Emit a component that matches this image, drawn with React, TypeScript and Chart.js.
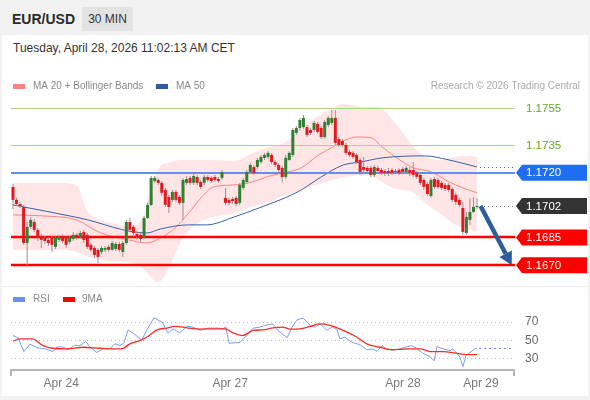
import React, { useEffect, useRef } from "react";
import { Chart, registerables } from "chart.js";
Chart.register(...registerables);

const FONT = "'Liberation Sans', Arial, Helvetica, sans-serif";

// ---------- price candles (30 min), index 0..131 ----------
const candleOpen = [
  1.17123, 1.17053, 1.17031, 1.17015, 1.1682, 1.16907, 1.16934, 1.16891, 1.16858, 1.16847,
  1.16837, 1.16847, 1.16799, 1.16837, 1.16858, 1.16853, 1.16826, 1.16842, 1.16864, 1.16853,
  1.1688, 1.16864, 1.1681, 1.16793, 1.16783, 1.16772, 1.16783, 1.16799, 1.16783, 1.16788,
  1.16815, 1.16772, 1.1682, 1.16934, 1.16907, 1.16869, 1.16864, 1.16853, 1.16955, 1.17026,
  1.17155, 1.17161, 1.17145, 1.17107, 1.17069, 1.17053, 1.17096, 1.17069, 1.17037, 1.17145,
  1.17172, 1.17145, 1.17177, 1.1715, 1.17145, 1.17177, 1.17172, 1.17177, 1.17166, 1.17172,
  1.17064, 1.17053, 1.17058, 1.17064, 1.17037, 1.17118, 1.1715, 1.17204, 1.17231, 1.17231,
  1.17258, 1.1728, 1.17285, 1.17296, 1.17258, 1.17242, 1.17226, 1.17177, 1.17269, 1.17296,
  1.17415, 1.17442, 1.17447, 1.17447, 1.17431, 1.17431, 1.17464, 1.17442, 1.17393, 1.17458,
  1.17469, 1.17496, 1.17382, 1.17372, 1.1735, 1.17312, 1.17307, 1.17296, 1.17269, 1.17231,
  1.17226, 1.17226, 1.17188, 1.17226, 1.17215, 1.17209, 1.17209, 1.17215, 1.17209, 1.17215,
  1.1722, 1.17204, 1.17215, 1.17215, 1.17199, 1.17188, 1.17161, 1.17139, 1.17074, 1.17166,
  1.17161, 1.17145, 1.17134, 1.17134, 1.17112, 1.1708, 1.17053, 1.1701, 1.16874, 1.16945,
  1.16988, 1.17015,
];
const candleHigh = [
  1.17139, 1.17064, 1.17042, 1.17026, 1.16934, 1.16961, 1.1695, 1.16901, 1.16869, 1.16858,
  1.16853, 1.16858, 1.16858, 1.16864, 1.16869, 1.16858, 1.16858, 1.1688, 1.16874, 1.16885,
  1.16891, 1.16874, 1.1682, 1.16804, 1.16793, 1.16804, 1.16804, 1.1681, 1.16831, 1.16826,
  1.16826, 1.16831, 1.16945, 1.16955, 1.16918, 1.16885, 1.16874, 1.16966, 1.17037, 1.17182,
  1.17182, 1.17172, 1.17155, 1.17118, 1.1708, 1.17107, 1.17107, 1.1708, 1.17172, 1.17182,
  1.17182, 1.17193, 1.17188, 1.17161, 1.17188, 1.17188, 1.17182, 1.17188, 1.17177, 1.17215,
  1.17118, 1.17064, 1.17069, 1.17074, 1.17145, 1.17172, 1.17215, 1.17253, 1.17242, 1.1728,
  1.17296, 1.17307, 1.17318, 1.17307, 1.17269, 1.17253, 1.17237, 1.17296, 1.17318, 1.17442,
  1.17453, 1.17496, 1.17512, 1.17458, 1.17442, 1.1748, 1.17474, 1.17453, 1.17485, 1.17507,
  1.17539, 1.17539, 1.17393, 1.17382, 1.17361, 1.17323, 1.17318, 1.17307, 1.1728, 1.17285,
  1.17237, 1.17237, 1.17242, 1.17237, 1.17226, 1.1722, 1.17226, 1.17226, 1.1722, 1.17226,
  1.17231, 1.17237, 1.17231, 1.17258, 1.17209, 1.17199, 1.17172, 1.1715, 1.17172, 1.17177,
  1.17172, 1.17155, 1.17145, 1.17145, 1.17123, 1.17091, 1.17064, 1.17042, 1.16988, 1.17064,
  1.17069, 1.17064,
];
const candleLow = [
  1.17004, 1.1702, 1.1701, 1.1681, 1.16691, 1.16896, 1.1688, 1.16831, 1.16793, 1.16815,
  1.16804, 1.16772, 1.16788, 1.16826, 1.1682, 1.16793, 1.16815, 1.16831, 1.16837, 1.16842,
  1.1682, 1.16788, 1.16772, 1.16739, 1.16712, 1.16761, 1.16772, 1.16772, 1.16777, 1.16777,
  1.16772, 1.16745, 1.1681, 1.1688, 1.16853, 1.16837, 1.16826, 1.16842, 1.1695, 1.1702,
  1.17145, 1.17134, 1.17074, 1.17015, 1.16982, 1.17042, 1.17042, 1.17026, 1.16945, 1.17134,
  1.17134, 1.17134, 1.17134, 1.17112, 1.17134, 1.1715, 1.17145, 1.1715, 1.17145, 1.17161,
  1.17026, 1.17026, 1.17031, 1.1702, 1.17026, 1.17107, 1.17139, 1.17193, 1.17188, 1.1722,
  1.17247, 1.17269, 1.17274, 1.17247, 1.17231, 1.17204, 1.1715, 1.17166, 1.17264, 1.17285,
  1.17404, 1.17426, 1.17437, 1.17393, 1.17404, 1.1742, 1.1741, 1.17382, 1.17382, 1.17447,
  1.17458, 1.1735, 1.17339, 1.17339, 1.17296, 1.17285, 1.17274, 1.17247, 1.17188, 1.17199,
  1.17199, 1.17177, 1.17177, 1.17199, 1.17188, 1.17182, 1.17182, 1.17188, 1.17193, 1.17188,
  1.17193, 1.17193, 1.17182, 1.17177, 1.17166, 1.17134, 1.17107, 1.17074, 1.17064, 1.17112,
  1.17112, 1.17107, 1.17101, 1.17096, 1.17042, 1.17026, 1.17015, 1.16864, 1.16864, 1.16918,
  1.16982, 1.17004,
];
const candleClose = [
  1.17053, 1.17031, 1.1702, 1.1682, 1.16907, 1.16945, 1.16891, 1.16847, 1.16837, 1.16831,
  1.1682, 1.1681, 1.16847, 1.16853, 1.16831, 1.1681, 1.16847, 1.16864, 1.16847, 1.16874,
  1.16837, 1.16799, 1.16783, 1.16756, 1.16745, 1.16793, 1.16793, 1.16783, 1.1682, 1.16815,
  1.16783, 1.1682, 1.16934, 1.16891, 1.16874, 1.16853, 1.16842, 1.16955, 1.17026, 1.17172,
  1.17172, 1.17145, 1.17091, 1.17026, 1.17015, 1.17096, 1.17053, 1.17037, 1.17161, 1.17166,
  1.17145, 1.17182, 1.17145, 1.17123, 1.17177, 1.17161, 1.17155, 1.17161, 1.17155, 1.17204,
  1.17037, 1.17037, 1.17047, 1.17031, 1.17134, 1.17161, 1.17204, 1.17242, 1.17199, 1.17269,
  1.17285, 1.17296, 1.17307, 1.17258, 1.17242, 1.17215, 1.17177, 1.1728, 1.17307, 1.17431,
  1.17442, 1.17485, 1.17496, 1.17404, 1.17415, 1.17469, 1.1742, 1.17393, 1.17474, 1.17496,
  1.17496, 1.17361, 1.1735, 1.1735, 1.17307, 1.17296, 1.17285, 1.17258, 1.17204, 1.17215,
  1.17209, 1.17188, 1.17231, 1.17209, 1.17199, 1.17199, 1.17199, 1.17199, 1.17204, 1.17199,
  1.17204, 1.17226, 1.17199, 1.17188, 1.17177, 1.17145, 1.17123, 1.17085, 1.17161, 1.17123,
  1.17123, 1.17118, 1.17112, 1.17107, 1.17053, 1.17042, 1.17026, 1.1688, 1.16961, 1.16988,
  1.17015, 1.1702,
];

// ---------- Bollinger bands (MA 20 ± 2σ), read at candle positions ----------
const bandIdx = [0, 8.9, 12.9, 17.9, 20.8, 24.8, 27.8, 32.7, 36.7, 38.7, 40.7, 41.7, 43.7, 45.7, 47.6, 52.6, 56.6, 62.5, 66.5, 71.5, 76.4, 81.4, 84.4, 89.3, 93.3, 100.2, 103.2, 107.2, 113.1, 117.1, 121.1, 125, 128, 131];
const bandUpper = [1.17145, 1.17145, 1.17145, 1.17134, 1.16999, 1.16945, 1.16928, 1.16912, 1.16955, 1.17107, 1.17204, 1.17237, 1.17253, 1.17264, 1.17269, 1.17269, 1.17269, 1.17264, 1.17296, 1.17334, 1.17361, 1.17442, 1.17485, 1.17539, 1.17572, 1.17555, 1.17555, 1.17485, 1.17339, 1.1728, 1.17269, 1.17285, 1.17291, 1.17285];
const bandLower = [1.16782, 1.16782, 1.16782, 1.16772, 1.1675, 1.16728, 1.16723, 1.16718, 1.16685, 1.16642, 1.1661, 1.16615, 1.16674, 1.16755, 1.16837, 1.16934, 1.16961, 1.16982, 1.1701, 1.17037, 1.17074, 1.17107, 1.17128, 1.17155, 1.17177, 1.17188, 1.17161, 1.17118, 1.17091, 1.17026, 1.16972, 1.16918, 1.16896, 1.1688];

const ma20Idx = [0, 8.9, 17.9, 24.8, 32.7, 37.7, 41.7, 45.7, 49.6, 52.6, 56.6, 62.5, 67.5, 72.4, 76.4, 81.4, 86.3, 90.3, 93.3, 97.3, 101.2, 104.2, 109.2, 113.1, 118.1, 123.1, 127, 131];
const ma20Val = [1.16972, 1.16966, 1.16945, 1.16874, 1.16837, 1.1682, 1.16847, 1.16901, 1.16982, 1.17053, 1.17123, 1.17134, 1.1715, 1.17182, 1.17199, 1.17226, 1.17296, 1.17339, 1.17372, 1.17393, 1.17388, 1.17339, 1.17269, 1.17226, 1.17204, 1.1715, 1.17118, 1.17091];

const ma50Idx = [0, 18.9, 37.7, 41.7, 49.6, 54.6, 62.5, 69.5, 75.4, 81.4, 84.4, 89.3, 93.3, 98.2, 104.2, 116.1, 123.1, 131];
const ma50Val = [1.17026, 1.16955, 1.16874, 1.16896, 1.16918, 1.16918, 1.16961, 1.1701, 1.17053, 1.17107, 1.17145, 1.17204, 1.17242, 1.17258, 1.1728, 1.17291, 1.17269, 1.17231];

// ---------- RSI and its 9-period MA ----------
const rsiIdx = [0, 1.4, 3.1, 4.8, 7.1, 9, 11.3, 12.4, 14.1, 15.5, 17.5, 18.9, 20.6, 21.7, 23.7, 25.4, 27.4, 28.8, 30.2, 31.3, 32.5, 34.4, 36.4, 37.8, 39.8, 42.1, 43.8, 45.2, 47.1, 49.1, 50.8, 52.8, 55.1, 57.9, 59.3, 60.1, 61, 64.1, 66.1, 67.8, 69.2, 71.1, 73.4, 74.8, 77.4, 78.8, 80.2, 81.9, 83.9, 85.3, 86.7, 88.6, 90.1, 91.5, 92.3, 93.7, 95.7, 97.9, 99.9, 101.4, 102.8, 104.2, 105.6, 107.3, 109.3, 110.7, 112.6, 114.1, 115.8, 117.7, 118.9, 119.7, 121.4, 123.4, 124.2, 125.4, 126.2, 127, 127.9, 129, 130.4, 131];
const rsiVal = [55.5, 53, 38, 46, 42, 41, 38, 43, 43, 40, 45, 44.5, 49, 43, 37, 41, 41, 46.5, 44.5, 47.5, 61.6, 56.5, 50.7, 61.6, 74.7, 70, 58, 62.7, 58.4, 65.6, 64.5, 61, 63.5, 63.5, 62.7, 65, 47, 48, 56, 63.5, 64, 66.4, 68, 61, 53, 64.5, 72.5, 74.4, 66.4, 64.5, 68, 61, 65, 61.6, 52, 53.6, 48, 45.6, 40, 41, 38.4, 44.5, 40, 40, 41, 42.7, 44.5, 41, 36, 32.5, 28, 43.5, 41, 39, 41, 35.5, 32, 21.6, 33.6, 37, 41, 41.6];
const maRsiIdx = [0, 2, 5.4, 8.5, 11.3, 15.2, 19.8, 24.6, 29.4, 31.1, 33, 35.8, 38.1, 40.7, 43.5, 45.7, 49.1, 52.8, 56.5, 59.9, 62.1, 64.9, 67.8, 70.6, 73.4, 76.2, 78.2, 81, 83.9, 86.7, 89.5, 93.2, 97.1, 99.9, 103.6, 107.3, 111.2, 114.9, 117.7, 121.4, 125.4, 128.2, 131];
const maRsiVal = [49.3, 51.8, 51.8, 44.5, 41.6, 41, 42.7, 41.6, 41, 41.6, 46.4, 50, 54.4, 61.6, 63.5, 65.3, 63.8, 62.4, 62.7, 62.7, 58.4, 55.5, 61, 61.6, 63.8, 64.5, 62.4, 62.7, 65.3, 68, 66.4, 61, 53.6, 46.4, 42.7, 40, 41, 41, 38, 38, 36, 34.7, 34.7];

// ---------- axis labels / levels ----------
const xTickLabels = ["Apr 24", "Apr 27", "Apr 28", "Apr 29"];
const xTickIndex = [13.6, 61.3, 110.1, 132.1];
const rsiTicks = [30, 50, 70];
const resistanceLevels = [1.1755, 1.1735];
const pivotLevel = 1.172;
const supportLevels = [1.1685, 1.167];
const lastPrice = 1.1702;
const arrowFrom = [132, 1.1702];
const arrowTo = [140.8, 1.167];

const X_MIN = -0.56;
const X_MAX = 141.44;

function hline(ctx: any, x0: number, x1: number, y: number) {
  ctx.beginPath();
  ctx.moveTo(x0, y);
  ctx.lineTo(x1, y);
  ctx.stroke();
}

function tag(ctx: any, left: number, yPix: number, text: string, color: string) {
  const h = 8;
  ctx.fillStyle = color;
  ctx.beginPath();
  ctx.moveTo(left, yPix);
  ctx.lineTo(left + 6, yPix - h);
  ctx.lineTo(left + 71, yPix - h);
  ctx.lineTo(left + 71, yPix + h);
  ctx.lineTo(left + 6, yPix + h);
  ctx.closePath();
  ctx.fill();
  ctx.fillStyle = "#ffffff";
  ctx.font = "11.5px " + FONT;
  ctx.textAlign = "left";
  ctx.textBaseline = "middle";
  ctx.fillText(text, left + 10, yPix + 0.5);
}

const mainDecor = {
  id: "mainDecor",
  beforeDatasetDraw(chart: any, args: any) {
    if (args.index !== 4) return;
    const { ctx, chartArea: ca, scales } = chart;
    const y = scales.y;
    ctx.save();
    ctx.lineWidth = 1;
    ctx.strokeStyle = "#a9d68b";
    resistanceLevels.forEach((v) => hline(ctx, ca.left, ca.right + 1, Math.round(y.getPixelForValue(v)) + 0.5));
    ctx.lineWidth = 2;
    ctx.strokeStyle = "#5f8ff0";
    hline(ctx, ca.left, ca.right + 1, Math.round(y.getPixelForValue(pivotLevel)));
    ctx.lineWidth = 2.5;
    ctx.strokeStyle = "#ff0000";
    supportLevels.forEach((v) => hline(ctx, ca.left, ca.right + 1, Math.round(y.getPixelForValue(v))));
    ctx.restore();
  },
  afterDraw(chart: any) {
    const { ctx, chartArea: ca, scales } = chart;
    const x = scales.x;
    const y = scales.y;
    ctx.save();
    // dotted extensions
    const lastX = x.getPixelForValue(candleClose.length - 1) + 3;
    ctx.setLineDash([1, 3]);
    ctx.lineWidth = 1;
    ctx.strokeStyle = "#777777";
    hline(ctx, lastX, ca.right, Math.round(y.getPixelForValue(lastPrice)) + 0.5);
    ctx.strokeStyle = "#4a5f86";
    hline(ctx, lastX, ca.right, Math.round(y.getPixelForValue(ma50Val[ma50Val.length - 1])) + 0.5);
    ctx.setLineDash([]);

    // forecast arrow
    const sx = x.getPixelForValue(arrowFrom[0]);
    const sy = y.getPixelForValue(arrowFrom[1]);
    const ex = x.getPixelForValue(arrowTo[0]);
    const ey = y.getPixelForValue(arrowTo[1]);
    const ang = Math.atan2(ey - sy, ex - sx);
    const hl = 13;
    const hw = 7;
    const bx = ex - hl * Math.cos(ang);
    const by = ey - hl * Math.sin(ang);
    ctx.strokeStyle = "#2c5c9c";
    ctx.fillStyle = "#2c5c9c";
    ctx.lineWidth = 4.5;
    ctx.beginPath();
    ctx.moveTo(sx, sy);
    ctx.lineTo(bx, by);
    ctx.stroke();
    ctx.beginPath();
    ctx.moveTo(ex, ey);
    ctx.lineTo(bx + hw * Math.sin(ang), by - hw * Math.cos(ang));
    ctx.lineTo(bx - hw * Math.sin(ang), by + hw * Math.cos(ang));
    ctx.closePath();
    ctx.fill();

    // right-hand labels
    const left = ca.right + 2;
    ctx.font = "11.5px " + FONT;
    ctx.textAlign = "left";
    ctx.textBaseline = "middle";
    ctx.fillStyle = "#62a824";
    resistanceLevels.forEach((v) => ctx.fillText(v.toFixed(4), left + 10, y.getPixelForValue(v) + 0.5));
    tag(ctx, left, y.getPixelForValue(pivotLevel), pivotLevel.toFixed(4), "#1f6df2");
    tag(ctx, left, y.getPixelForValue(lastPrice), lastPrice.toFixed(4), "#333333");
    supportLevels.forEach((v) => tag(ctx, left, y.getPixelForValue(v), v.toFixed(4), "#ff0000"));

    // legend
    ctx.font = "10px " + FONT;
    ctx.textBaseline = "middle";
    ctx.fillStyle = "#ff8080";
    ctx.fillRect(13, 84, 12, 5);
    ctx.fillStyle = "#888888";
    ctx.fillText("MA 20 + Bollinger Bands", 33, 86.5);
    ctx.fillStyle = "#2d5aa0";
    ctx.fillRect(156, 84, 12, 5);
    ctx.fillStyle = "#888888";
    ctx.fillText("MA 50", 176, 86.5);
    ctx.textAlign = "right";
    ctx.fillStyle = "#aaaaaa";
    ctx.fillText("Research \u00a9 2026 Trading Central", 580, 86.5);

    // panel separator
    ctx.strokeStyle = "#eeeeee";
    ctx.lineWidth = 1;
    hline(ctx, 2, 588, 286.5);
    ctx.restore();
  },
};

const rsiDecor = {
  id: "rsiDecor",
  afterDraw(chart: any) {
    const { ctx, chartArea: ca, scales } = chart;
    const x = scales.x;
    const y = scales.y;
    ctx.save();
    ctx.font = "10px " + FONT;
    ctx.textBaseline = "middle";
    ctx.textAlign = "left";
    ctx.fillStyle = "#6b8ff0";
    ctx.fillRect(13, 7, 12, 5);
    ctx.fillStyle = "#888888";
    ctx.fillText("RSI", 33, 9.5);
    ctx.fillStyle = "#ff0000";
    ctx.fillRect(63, 7, 12, 5);
    ctx.fillStyle = "#888888";
    ctx.fillText("9MA", 82, 9.5);
    // dotted extension of RSI
    ctx.setLineDash([2, 3]);
    ctx.strokeStyle = "#6b8ff0";
    ctx.lineWidth = 1;
    hline(ctx, x.getPixelForValue(rsiIdx[rsiIdx.length - 1]) + 2, ca.right, Math.round(y.getPixelForValue(rsiVal[rsiVal.length - 1])) + 0.5);
    ctx.setLineDash([]);
    // axis end marks
    ctx.strokeStyle = "#b5b5b5";
    ctx.lineWidth = 2;
    [ca.left, ca.right].forEach((px) => {
      ctx.beginPath();
      ctx.moveTo(px, ca.bottom);
      ctx.lineTo(px, ca.bottom + 6);
      ctx.stroke();
    });
    ctx.restore();
  },
};

export default function App() {
  const mainRef = useRef<HTMLCanvasElement>(null);
  const rsiRef = useRef<HTMLCanvasElement>(null);

  useEffect(() => {
    Chart.defaults.font.family = FONT;
    const bodyColors = candleOpen.map((o, i) => (candleClose[i] >= o ? "#2f8034" : "#e3191f"));

    const main = new Chart(mainRef.current as HTMLCanvasElement, {
      type: "bar",
      data: {
        datasets: [
          {
            type: "line",
            label: "BB upper",
            data: bandIdx.map((v, i) => ({ x: v, y: bandUpper[i] })),
            borderWidth: 0,
            borderColor: "rgba(0,0,0,0)",
            pointRadius: 0,
            fill: "+1",
            backgroundColor: "rgba(255,70,70,0.14)",
            cubicInterpolationMode: "monotone",
            order: 10,
          },
          {
            type: "line",
            label: "BB lower",
            data: bandIdx.map((v, i) => ({ x: v, y: bandLower[i] })),
            borderWidth: 0,
            borderColor: "rgba(0,0,0,0)",
            pointRadius: 0,
            fill: false,
            cubicInterpolationMode: "monotone",
            order: 9,
          },
          {
            type: "line",
            label: "MA 20",
            data: ma20Idx.map((v, i) => ({ x: v, y: ma20Val[i] })),
            borderWidth: 1,
            borderColor: "rgba(255,105,105,0.8)",
            pointRadius: 0,
            fill: false,
            cubicInterpolationMode: "monotone",
            order: 6,
          },
          {
            type: "line",
            label: "MA 50",
            data: ma50Idx.map((v, i) => ({ x: v, y: ma50Val[i] })),
            borderWidth: 1,
            borderColor: "#3461a8",
            pointRadius: 0,
            fill: false,
            cubicInterpolationMode: "monotone",
            order: 5,
          },
          {
            type: "bar",
            label: "wick",
            data: candleOpen.map((_, i) => ({ x: i, y: [candleLow[i], candleHigh[i]] })) as any,
            backgroundColor: "#9a9292",
            barThickness: 1,
            grouped: false,
            inflateAmount: 0,
            order: 2,
          },
          {
            type: "bar",
            label: "body",
            data: candleOpen.map((o, i) => ({ x: i, y: [o, candleClose[i]] })) as any,
            backgroundColor: bodyColors,
            barThickness: 3,
            grouped: false,
            minBarLength: 1,
            inflateAmount: 0,
            order: 1,
          },
        ],
      } as any,
      options: {
        responsive: false,
        animation: false,
        devicePixelRatio: 1,
        events: [],
        layout: { padding: { left: 11, right: 76, top: 100, bottom: 5 } },
        plugins: { legend: { display: false }, tooltip: { enabled: false } },
        scales: {
          x: { type: "linear", min: X_MIN, max: X_MAX, display: false, offset: false },
          y: { type: "linear", min: 1.16593, max: 1.17593, display: false },
        },
      } as any,
      plugins: [mainDecor],
    });

    const rsi = new Chart(rsiRef.current as HTMLCanvasElement, {
      type: "line",
      data: {
        datasets: [
          {
            label: "RSI",
            data: rsiIdx.map((v, i) => ({ x: v, y: rsiVal[i] })),
            borderColor: "#7a9cf0",
            borderWidth: 1,
            pointRadius: 0,
            tension: 0,
            order: 2,
          },
          {
            label: "9MA",
            data: maRsiIdx.map((v, i) => ({ x: v, y: maRsiVal[i] })),
            borderColor: "#ff2b2b",
            borderWidth: 1.3,
            pointRadius: 0,
            cubicInterpolationMode: "monotone",
            order: 1,
          },
        ],
      },
      options: {
        responsive: false,
        animation: false,
        devicePixelRatio: 1,
        events: [],
        layout: { padding: { left: 11, right: 0, top: 10, bottom: 0 } },
        plugins: { legend: { display: false }, tooltip: { enabled: false } },
        scales: {
          x: {
            type: "linear",
            min: X_MIN,
            max: X_MAX,
            position: "bottom",
            afterBuildTicks: (s: any) => {
              s.ticks = xTickIndex.map((v) => ({ value: v }));
            },
            afterFit: (s: any) => {
              s.height = 30;
              s.paddingLeft = 0;
              s.paddingRight = 0;
            },
            grid: { display: false, drawTicks: false },
            border: { display: true, color: "#b5b5b5", width: 2 },
            ticks: {
              autoSkip: false,
              maxRotation: 0,
              padding: 6,
              color: "#777777",
              font: { size: 12 },
              callback: (_v: any, i: number) => xTickLabels[i],
            },
          },
          y: {
            type: "linear",
            position: "right",
            min: 18,
            max: 94,
            afterBuildTicks: (s: any) => {
              s.ticks = rsiTicks.map((v) => ({ value: v }));
            },
            afterFit: (s: any) => {
              s.width = 76;
              s.paddingTop = 0;
              s.paddingBottom = 0;
            },
            grid: { color: "#bdbdbd", lineWidth: 1, drawTicks: false },
            border: { display: false, dash: [1, 3] },
            ticks: { padding: 11, color: "#666666", font: { size: 12 }, callback: (v: any) => String(v) },
          },
        },
      } as any,
      plugins: [rsiDecor],
    });

    return () => {
      main.destroy();
      rsi.destroy();
    };
  }, []);

  return (
    <div
      style={{
        position: "fixed",
        left: 0,
        top: 0,
        width: 590,
        height: 400,
        background: "#f2f2f2",
        overflow: "hidden",
        fontFamily: FONT,
      }}
    >
      <div style={{ position: "absolute", left: 2, top: 35, width: 586, height: 361, background: "#ffffff" }} />
      <div style={{ position: "absolute", left: 12, top: 12, fontSize: 14, fontWeight: "bold", lineHeight: "14px", color: "#2b2b2b" }}>
        EUR/USD
      </div>
      <div
        style={{
          position: "absolute",
          left: 82,
          top: 7,
          width: 51,
          height: 24,
          background: "#e3e3e3",
          fontSize: 12,
          lineHeight: "24px",
          textAlign: "center",
          color: "#333333",
        }}
      >
        30 MIN
      </div>
      <div style={{ position: "absolute", left: 13, top: 41, fontSize: 12, lineHeight: "14px", color: "#333333" }}>
        Tuesday, April 28, 2026 11:02:13 AM CET
      </div>
      <canvas ref={mainRef} width={590} height={290} style={{ position: "absolute", left: 0, top: 0, width: 590, height: 290 }} />
      <canvas ref={rsiRef} width={590} height={110} style={{ position: "absolute", left: 0, top: 290, width: 590, height: 110 }} />
    </div>
  );
}
